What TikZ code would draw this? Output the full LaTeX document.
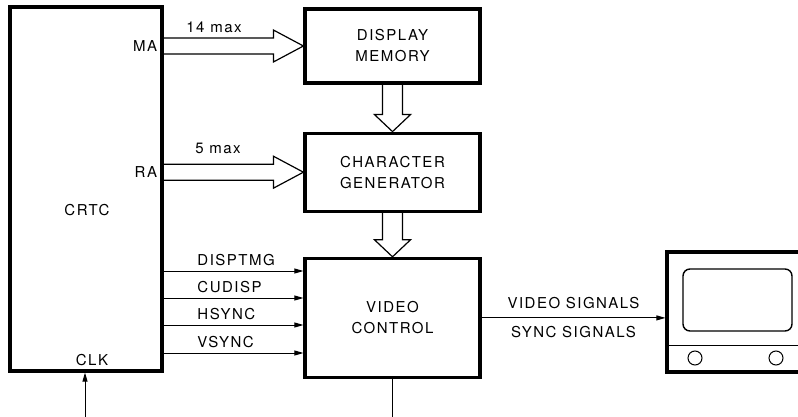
\documentclass[tikz,border=0pt]{standalone}
\usepackage{fontspec}
\setmainfont{TeX Gyre Heros}[LetterSpace=10]
\usepackage{tikz}
\usetikzlibrary{arrows.meta,calc,positioning}

\begin{document}
\begin{tikzpicture}[x=1pt,y=-1pt,>={Triangle[length=9pt,width=5pt]},
                    font=\fontsize{15}{21}\selectfont,
                    box/.style={draw,line width=3.2pt,align=center,inner sep=0pt},
                    sig/.style={draw,->,line width=1pt},
                    sl/.style={pos=0,anchor=base west,xshift=30pt,yshift=5.5pt},
                    hbus/.style={line width=1.2pt,to path={let \p1=(\tikztostart),\p2=(\tikztotarget) in
                        (\x1,\y2+8) -- (\x2-30,\y2+8) -- (\x2-30,\y2+16) -- (\x2,\y2)
                        -- (\x2-30,\y2-16) -- (\x2-30,\y2-8) -- (\x1,\y2-8)}},
                    vbus/.style={line width=1.2pt,to path={let \p1=(\tikztostart),\p2=(\tikztotarget) in
                        (\x2-10,\y1) -- (\x2-10,\y2+17) -- (\x2-18,\y2+17) -- (\x2,\y2)
                        -- (\x2+18,\y2+17) -- (\x2+10,\y2+17) -- (\x2+10,\y1)}}]

    \useasboundingbox (0,0) rectangle (798,417);

    \node[box,minimum width=152pt,minimum height=364pt] (crtc) at (86,189) {};
    \node[box,minimum width=175pt,minimum height=74pt] (dm) at (392.5,46) {DISPLAY\\MEMORY};
    \node[box,minimum width=175pt,minimum height=78pt,below=47pt of dm] (cg) {CHARACTER\\GENERATOR};
    \node[box,minimum width=175pt,minimum height=119pt,below=44pt of cg] (vc) {VIDEO\\CONTROL};
    \node[box,minimum width=138pt,minimum height=120pt] (tv) at (736,312) {};

    \node (crtcl) at (87,210) {CRTC};
    \node[left=3pt] (ma) at (crtc.east|-dm.west) {MA};
    \node[left=3pt] (ra) at (crtc.east|-cg.west) {RA};
    \node (clk) at (92,360) {CLK};
    \node (w14) at (214,27) {14 max};
    \node (w5) at (218,148) {5 max};

    \draw[hbus] (crtc.east|-dm.west) to (dm.west);
    \draw[hbus] (crtc.east|-cg.west) to (cg.west);
    \draw[vbus] (dm.south) to (cg.north);
    \draw[vbus] (cg.south) to (vc.north);

    \coordinate (s1) at (0,271);
    \coordinate (s2) at (0,298);
    \coordinate (s3) at (0,325);
    \coordinate (s4) at (0,353);
    \path (crtc.east|-s1) edge[sig] node[sl] (l1) {DISPTMG} (vc.west|-s1)
          (crtc.east|-s2) edge[sig] node[sl] (l2) {CUDISP} (vc.west|-s2)
          (crtc.east|-s3) edge[sig] node[sl] (l3) {HSYNC} (vc.west|-s3)
          (crtc.east|-s4) edge[sig] node[sl] (l4) {VSYNC} (vc.west|-s4);

    \path (vc.east) edge[sig] node[above=5pt] (vs) {VIDEO SIGNALS}
                              node[below=5pt] (ss) {SYNC SIGNALS} (tv.west|-vc.east);

    \coordinate (clkin) at (85,425);
    \path (clkin) edge[sig] (clkin|-crtc.south);
    \draw[line width=1pt] (vc.south) -- (vc.south|-clkin);

    \node[draw,line width=1.4pt,rounded corners=7pt,minimum width=109pt,minimum height=62pt] (scr) at (737.5,300) {};
    \draw[line width=1.4pt] ($(tv.south west)+(0,-28)$) -- ($(tv.south east)+(0,-28)$);
    \node[draw,circle,line width=1pt,minimum size=14pt,inner sep=0pt] (k1) at (695,358) {};
    \node[draw,circle,line width=1pt,minimum size=14pt,inner sep=0pt] (k2) at (776,358) {};
\end{tikzpicture}
\end{document}
